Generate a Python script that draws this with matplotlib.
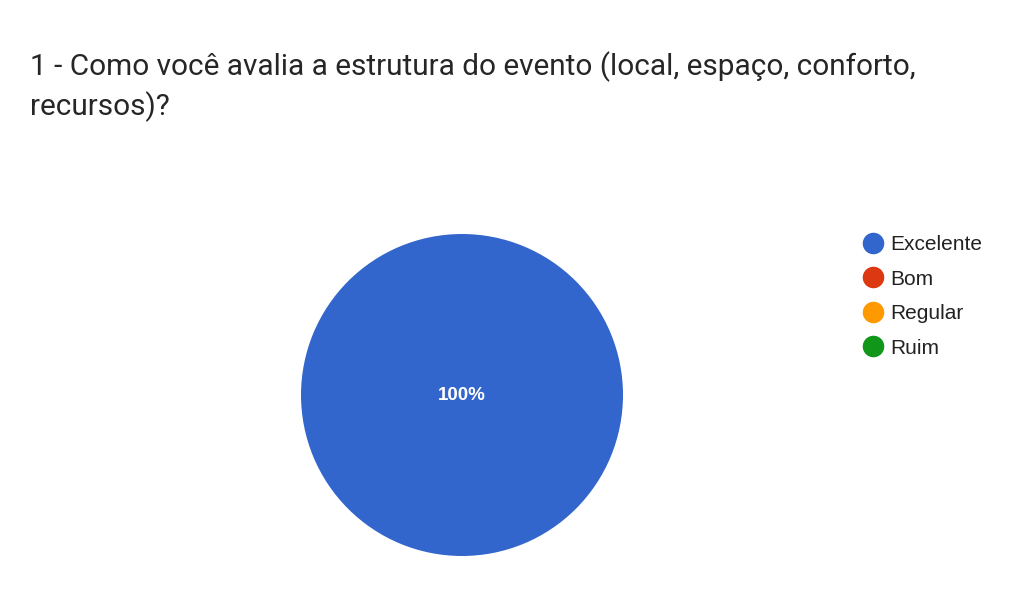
import matplotlib
matplotlib.use("Agg")
import matplotlib.pyplot as plt
from matplotlib.lines import Line2D

title_lines = ["1 - Como você avalia a estrutura do evento (local, espaço, conforto,", "recursos)?"]
categories = ["Excelente", "Bom", "Regular", "Ruim"]
values = [100, 0, 0, 0]
colors = ["#3366cc", "#dc3912", "#ff9900", "#109618"]

fig = plt.figure(figsize=(10.24, 6), dpi=100)
fig.patch.set_facecolor("white")

# title in two lines, like the form screenshot
fig.text(30 / 1024, 1 - 75 / 600, title_lines[0], family="Roboto", fontsize=21.4,
         color="#262626", va="baseline", ha="left")
fig.text(30 / 1024, 1 - 115 / 600, title_lines[1], family="Roboto", fontsize=21.4,
         color="#262626", va="baseline", ha="left")

cx, cy, r = 462, 395, 161
ax = fig.add_axes([(cx - r) / 1024, 1 - (cy + r) / 600, 2 * r / 1024, 2 * r / 600])


def pct(p):
    return f"{p:.0f}%" if p > 0 else ""


wedges, texts, autotexts = ax.pie(values, colors=colors, startangle=90, counterclock=False,
                                  autopct=pct, pctdistance=0.0, radius=1,
                                  wedgeprops=dict(linewidth=0))
for t in autotexts:
    t.set_color("white")
    t.set_fontweight("bold")
    t.set_fontsize(13.5)
    t.set_family("Liberation Sans")
ax.set_xlim(-1, 1)
ax.set_ylim(-1, 1)
ax.set_aspect("equal")
ax.axis("off")

handles = [Line2D([], [], marker="o", linestyle="none", markersize=14.5,
                  markerfacecolor=c, markeredgecolor=c) for c in colors]
fig.legend(handles, categories, loc="upper left", bbox_to_anchor=(852 / 1024, 1 - 227 / 600),
           frameon=False, prop=dict(family="Liberation Sans", size=15),
           labelspacing=0.74, handletextpad=0.25, handlelength=1.2, borderaxespad=0,
           labelcolor="#222222")

fig.savefig("out.png", dpi=100, facecolor="white")
